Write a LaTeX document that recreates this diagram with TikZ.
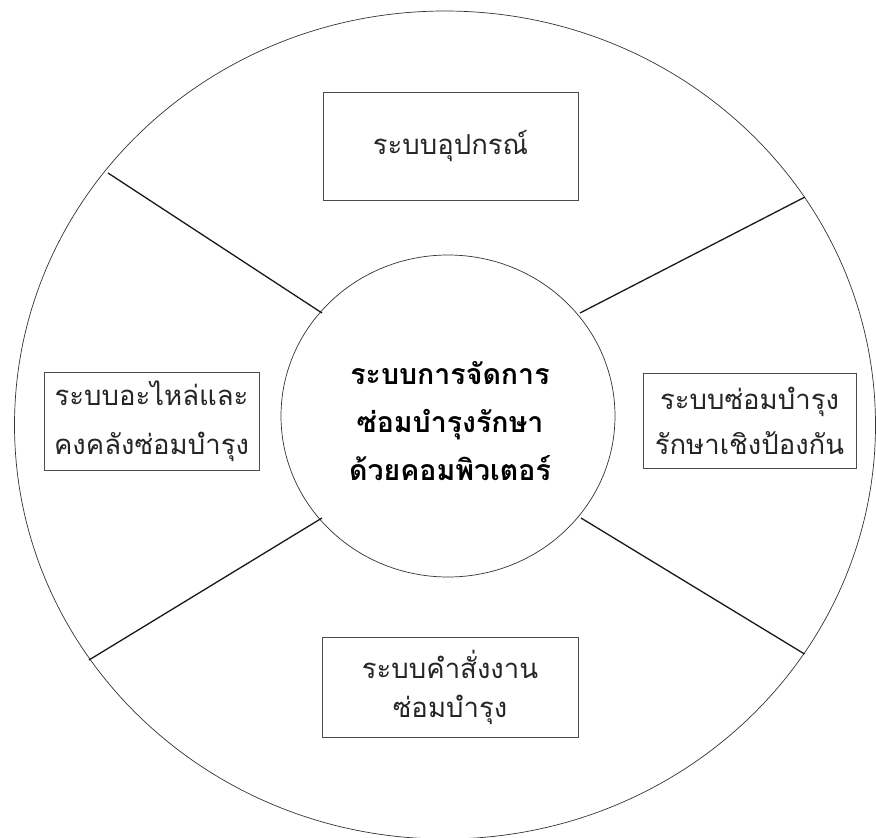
\documentclass[tikz,border=0pt]{standalone}
\usepackage{fontspec}
\newfontfamily\thaisans[Script=Thai]{Loma}
\begin{document}
\begin{tikzpicture}[x=1pt, y=-1pt,
  ring/.style={draw=black!80, line width=0.7pt},
  spoke/.style={draw=black!90, line width=1.3pt},
  sysbox/.style={draw=black!70, line width=0.8pt, rectangle, inner sep=0pt,
    align=center, text=black!85},
  boxfont/.style={font=\thaisans\fontsize{27.5}{#1}\selectfont},
  hub/.style={align=center, font=\thaisans\bfseries\fontsize{28.5}{48}\selectfont, text=black}]
\useasboundingbox (0,0) rectangle (876,838);
\fill[white] (0,0) rectangle (876,838);

% outer ring and central hub
\draw[ring] (445,425) ellipse [x radius=430.5, y radius=414];
\draw[ring] (448,416) ellipse [x radius=167, y radius=161];
\node[hub] (core) at (450,421) {ระบบการจัดการ\\ซ่อมบำรุงรักษา\\ด้วยคอมพิวเตอร์};

% spoke end points on the hub and on the outer ring
\coordinate (hubUL) at (322,313);
\coordinate (hubUR) at (580,313);
\coordinate (hubLL) at (322,518);
\coordinate (hubLR) at (581,518);
\coordinate (rimUL) at (108,173);
\coordinate (rimUR) at (805,197);
\coordinate (rimLL) at (89,660);
\coordinate (rimLR) at (804.5,654);
\draw[spoke] (rimUL) -- (hubUL);
\draw[spoke] (rimUR) -- (hubUR);
\draw[spoke] (rimLL) -- (hubLL);
\draw[spoke] (rimLR) -- (hubLR);

% the four subsystems
\node[sysbox, boxfont=40, minimum width=255pt, minimum height=108pt] (equip) at (450.5,146) {ระบบอุปกรณ์};
\node[sysbox, boxfont=49, minimum width=215pt, minimum height=98pt] (spares) at (151.5,421) {ระบบอะไหล่และ\\คงคลังซ่อมบำรุง};
\node[sysbox, boxfont=45, minimum width=213pt, minimum height=95pt] (prevent) at (749.5,420.5) {ระบบซ่อมบำรุง\\รักษาเชิงป้องกัน};
\node[sysbox, boxfont=39, minimum width=256pt, minimum height=100pt] (orders) at (450,687) {ระบบคำสั่งงาน\\ซ่อมบำรุง};
\end{tikzpicture}
\end{document}
